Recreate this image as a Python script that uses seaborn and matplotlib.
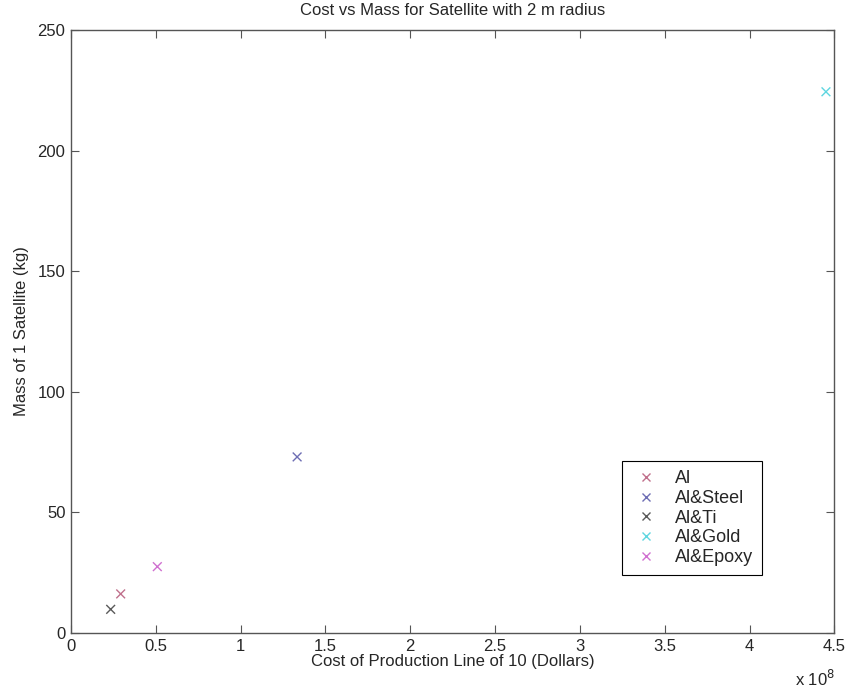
import pandas as pd
import matplotlib.pyplot as plt
import seaborn as sns
from matplotlib.ticker import FuncFormatter

# valores
materials = ['Al', 'Al&Steel', 'Al&Ti', 'Al&Gold', 'Al&Epoxy']
cost = [0.293e8, 1.333e8, 0.234e8, 4.45e8, 0.509e8]   # dolares
mass = [16.2, 73.0, 9.8, 224.4, 27.5]                 # kg
colors = ['#c0708c', '#6e6eb4', '#5a5a5a', '#5fd6e0', '#d070d0']

df = pd.DataFrame({'material': materials, 'cost': cost, 'mass': mass})

sns.set_style('ticks')
plt.rcParams['font.family'] = ['Liberation Sans', 'DejaVu Sans']

fig = plt.figure(figsize=(8.48, 6.92), dpi=100)
ax = fig.add_axes([0.0837, 0.0853, 0.9003, 0.8713])

sns.scatterplot(data=df, x='cost', y='mass', hue='material', hue_order=materials,
                palette=dict(zip(materials, colors)), marker='x', s=40,
                linewidth=1.0, ax=ax)

ax.set_xlim(0, 4.5e8)
ax.set_ylim(0, 250)
ax.set_xticks([i * 0.5e8 for i in range(10)])
ax.set_yticks(range(0, 251, 50))
# rotulos no estilo do matlab: 0, 0.5, 1 ... com o fator x 10^8 a parte
ax.xaxis.set_major_formatter(FuncFormatter(lambda v, p: '%g' % (v / 1e8)))
ax.text(0.948, -0.077, r'x 10$^{8}$', transform=ax.transAxes, fontsize=12,
        ha='left', va='center')

for side in ax.spines.values():
    side.set_color('#555555')
    side.set_linewidth(1.0)
ax.tick_params(direction='in', top=True, right=True, length=6, color='#555555',
               labelsize=12, pad=4)

ax.set_title('Cost vs Mass for Satellite with 2 m radius', fontsize=12, pad=11)
ax.set_xlabel('Cost of Production Line of 10 (Dollars)', fontsize=12, labelpad=0)
ax.set_ylabel('Mass of 1 Satellite (kg)', fontsize=12, labelpad=6)

leg = ax.legend(loc='lower left', bbox_to_anchor=(0.722, 0.096), borderaxespad=0,
                fontsize=13, frameon=True, fancybox=False, framealpha=1,
                handletextpad=0.8, borderpad=0.5, labelspacing=0.15,
                handlelength=1.6)
leg.get_frame().set_edgecolor('black')
leg.get_frame().set_linewidth(0.8)

fig.savefig('out.png', dpi=100)
